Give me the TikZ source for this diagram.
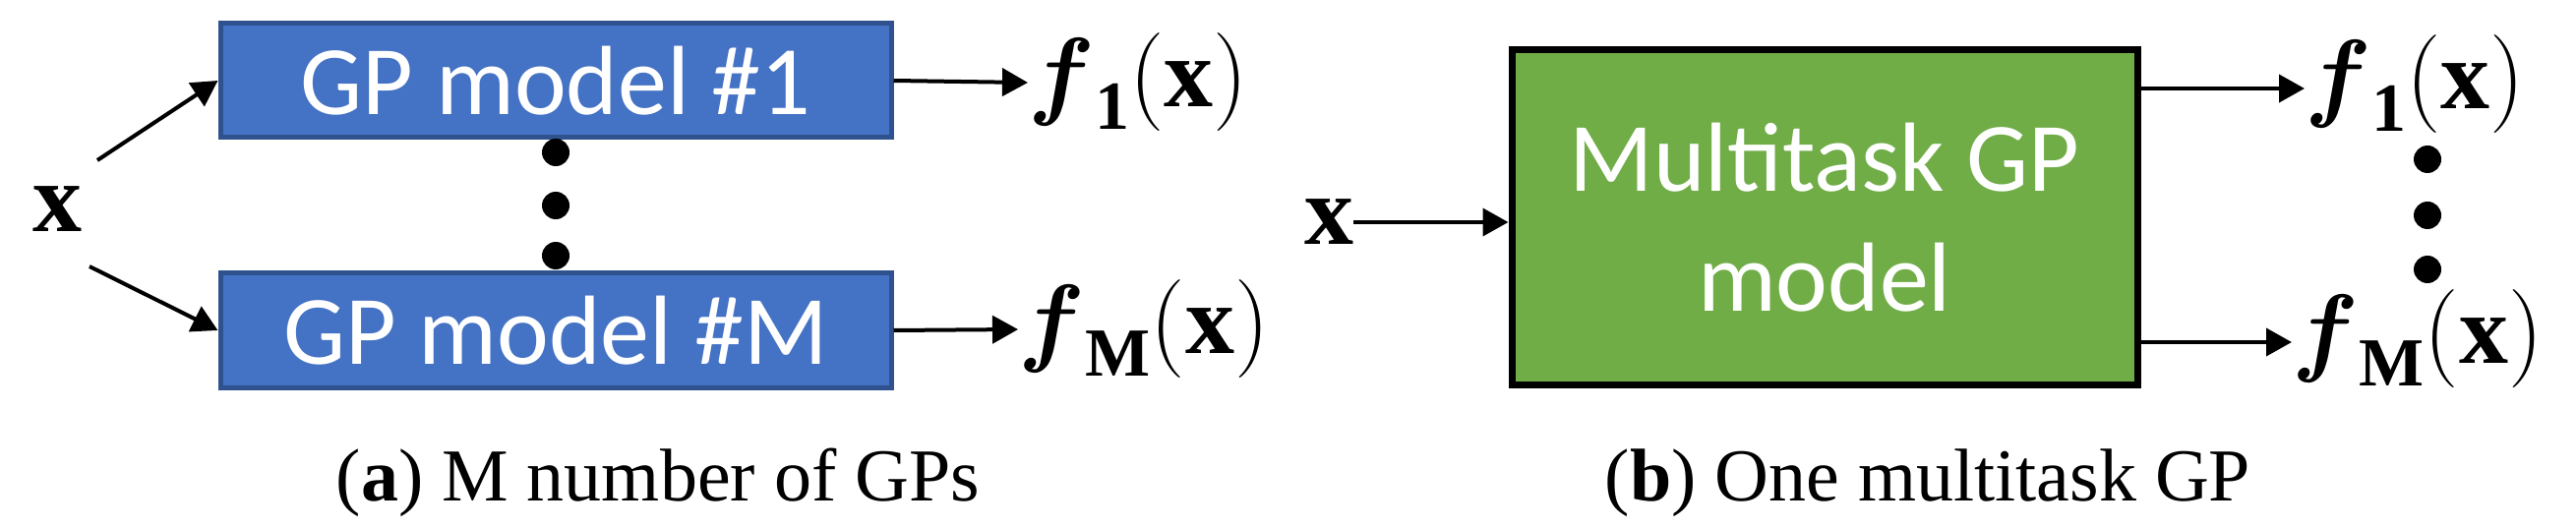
\documentclass[tikz,border=0pt]{standalone}
\usepackage{fix-cm}
\usepackage{amsmath}
\usepackage{fontspec}
\setmainfont{Liberation Serif}
\newfontfamily\boxfont{Carlito}
\usetikzlibrary{arrows.meta}
\definecolor{gpblue}{HTML}{4472C4}
\definecolor{gpblueedge}{HTML}{2F528F}
\definecolor{gpgreen}{HTML}{70AD47}
\DeclareMathSizes{100}{100}{70}{50}
\tikzset{
  conn/.style={line width=4pt,-{Triangle[length=26pt,width=28pt]}},
  bluebox/.style={draw=gpblueedge,line width=5pt,fill=gpblue,text=white,font=\boxfont\fontsize{100}{108}\selectfont,inner sep=0pt},
  greenbox/.style={draw=black,line width=7pt,fill=gpgreen,text=white,font=\boxfont\fontsize{100}{122}\selectfont,align=center,inner sep=0pt},
  mathlbl/.style={font=\fontsize{100}{110}\selectfont,inner sep=0pt},
  caplbl/.style={font=\fontsize{76}{84}\selectfont,inner sep=0pt,anchor=base},
  bigdot/.style={circle,fill=black,minimum width=24pt,minimum height=28pt,inner sep=0pt}
}
\begin{document}
\begin{tikzpicture}[x=1pt,y=-1pt]
\useasboundingbox (0,0) rectangle (2619,537);
% (a)
\node[bluebox,minimum width=682pt,minimum height=116pt] (b1) at (565,82) {GP model \#1};
\node[bluebox,minimum width=682pt,minimum height=117pt] (bm) at (565,336) {GP model \#M};
\node[mathlbl] (xa) at (59,213) {$\mathbf{x}$};
\coordinate (xa1) at (99,163);
\coordinate (xa2) at (91,271);
\draw[conn] (xa1) -- (b1.west);
\draw[conn] (xa2) -- (bm.west);
\node[bigdot] (d1) at (565,155) {};
\node[bigdot] (d2) at (565,209) {};
\node[bigdot] (d3) at (565,260) {};
\node[mathlbl,anchor=west] (f1a) at (1045,84) {$\boldsymbol{f}_{\mathbf{1}}(\mathbf{x})$};
\node[mathlbl,anchor=west] (fma) at (1035,335) {$\boldsymbol{f}_{\mathbf{M}}(\mathbf{x})$};
\draw[conn] (b1.east) -- (f1a.west);
\draw[conn] (bm.east) -- (fma.west);
\node[caplbl] (capa) at (669,509) {(\textbf{a}) M number of GPs};
% (b)
\node[greenbox,minimum width=636pt,minimum height=340pt] (g) at (1855,221) {Multitask GP\\model};
\node[mathlbl] (xb) at (1351,226) {$\mathbf{x}$};
\draw[conn] (xb.east) -- (g.west |- xb.east);
\coordinate (go1) at (2173,90);
\coordinate (go2) at (2173,348);
\node[mathlbl,anchor=west] (f1b) at (2343,86) {$\boldsymbol{f}_{\mathbf{1}}(\mathbf{x})$};
\node[mathlbl,anchor=west] (fmb) at (2330,345) {$\boldsymbol{f}_{\mathbf{M}}(\mathbf{x})$};
\draw[conn] (go1) -- (f1b.west |- go1);
\draw[conn] (go2) -- (fmb.west |- go2);
\node[bigdot] (e1) at (2468,162) {};
\node[bigdot] (e2) at (2468,219) {};
\node[bigdot] (e3) at (2468,274) {};
\node[caplbl] (capb) at (1960,509) {(\textbf{b}) One multitask GP};
\end{tikzpicture}
\end{document}
